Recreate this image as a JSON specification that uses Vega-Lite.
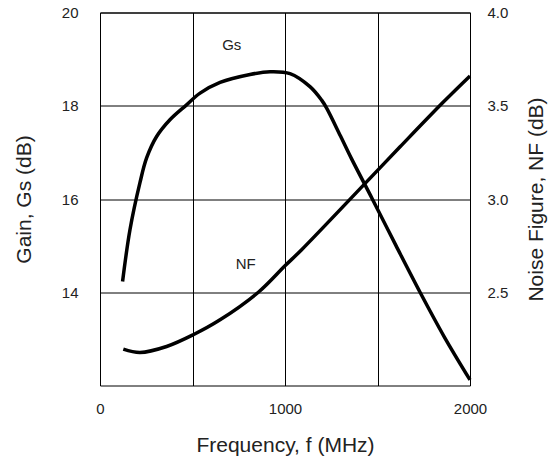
{
  "$schema": "https://vega.github.io/schema/vega-lite/v6.json",
  "width": 370,
  "height": 373,
  "autosize": {"type": "none"},
  "padding": {"left": 100, "top": 12.5, "right": 89, "bottom": 75.5},
  "background": "white",
  "config": {
    "view": {"stroke": "black", "strokeWidth": 1},
    "font": "Liberation Sans",
    "axis": {
      "labelFont": "Liberation Sans",
      "titleFont": "Liberation Sans",
      "labelFontSize": 15,
      "titleFontSize": 21,
      "titleFontWeight": "normal",
      "labelColor": "#222",
      "titleColor": "#222",
      "domain": false,
      "ticks": false,
      "tickSize": 0,
      "labelFlush": false,
      "labelOverlap": false
    }
  },
  "datasets": {
    "gs": [
      {"f": 122, "v": 14.23},
      {"f": 162, "v": 15.34},
      {"f": 216, "v": 16.35},
      {"f": 252, "v": 16.88},
      {"f": 306, "v": 17.34},
      {"f": 378, "v": 17.7},
      {"f": 468, "v": 18.02},
      {"f": 541, "v": 18.27},
      {"f": 649, "v": 18.5},
      {"f": 811, "v": 18.67},
      {"f": 919, "v": 18.73},
      {"f": 1027, "v": 18.69},
      {"f": 1135, "v": 18.41},
      {"f": 1198, "v": 18.12},
      {"f": 1225, "v": 17.95},
      {"f": 1300, "v": 17.35},
      {"f": 1360, "v": 16.86},
      {"f": 1472, "v": 16.0},
      {"f": 1600, "v": 15.0},
      {"f": 1730, "v": 14.0},
      {"f": 1860, "v": 13.05},
      {"f": 2000, "v": 12.12}
    ],
    "nf": [
      {"f": 126, "v": 2.195},
      {"f": 216, "v": 2.177},
      {"f": 360, "v": 2.209},
      {"f": 504, "v": 2.272},
      {"f": 649, "v": 2.352},
      {"f": 856, "v": 2.5},
      {"f": 1000, "v": 2.642},
      {"f": 1090, "v": 2.728},
      {"f": 1423, "v": 3.073},
      {"f": 1622, "v": 3.28},
      {"f": 1856, "v": 3.52},
      {"f": 2000, "v": 3.66}
    ],
    "labels": [
      {"f": 712, "v": 19.3, "text": "Gs"},
      {"f": 788, "v": 14.6, "text": "NF"}
    ]
  },
  "layer": [
    {
      "layer": [
        {
          "data": {"name": "gs"},
          "mark": {"type": "line", "color": "black", "strokeWidth": 3.5, "interpolate": "catmull-rom"},
          "encoding": {
            "x": {
              "field": "f", "type": "quantitative",
              "scale": {"domain": [0, 2000], "nice": false},
              "axis": {
                "values": [0, 500, 1000, 1500, 2000],
                "format": "d",
                "labelExpr": "datum.value % 1000 === 0 ? datum.label : ''",
                "grid": true, "gridColor": "black", "gridOpacity": 1, "gridWidth": 1,
                "labelPadding": 16,
                "title": "Frequency, f (MHz)",
                "titleY": 60, "titleBaseline": "middle"
              }
            },
            "y": {
              "field": "v", "type": "quantitative",
              "scale": {"domain": [12, 20], "nice": false, "zero": false},
              "axis": {
                "values": [14, 16, 18, 20],
                "grid": true, "gridColor": "black", "gridOpacity": 1, "gridWidth": 1,
                "labelPadding": 22,
                "title": "Gain, Gs (dB)",
                "titleX": -76, "titleBaseline": "middle"
              }
            }
          }
        },
        {
          "data": {"name": "labels"},
          "mark": {"type": "text", "font": "Liberation Sans", "fontSize": 15, "color": "#222"},
          "encoding": {
            "x": {"field": "f", "type": "quantitative"},
            "y": {"field": "v", "type": "quantitative"},
            "text": {"field": "text"}
          }
        }
      ]
    },
    {
      "data": {"name": "nf"},
      "mark": {"type": "line", "color": "black", "strokeWidth": 3.5, "interpolate": "catmull-rom"},
      "encoding": {
        "x": {"field": "f", "type": "quantitative"},
        "y": {
          "field": "v", "type": "quantitative",
          "scale": {"domain": [2, 4], "nice": false, "zero": false},
          "axis": {
            "orient": "right",
            "values": [2.5, 3.0, 3.5, 4.0],
            "format": ".1f",
            "grid": false,
            "labelPadding": 17,
            "title": "Noise Figure, NF (dB)",
            "titleAngle": 270,
            "titleX": 66, "titleBaseline": "middle"
          }
        }
      }
    }
  ],
  "resolve": {"scale": {"y": "independent"}}
}
